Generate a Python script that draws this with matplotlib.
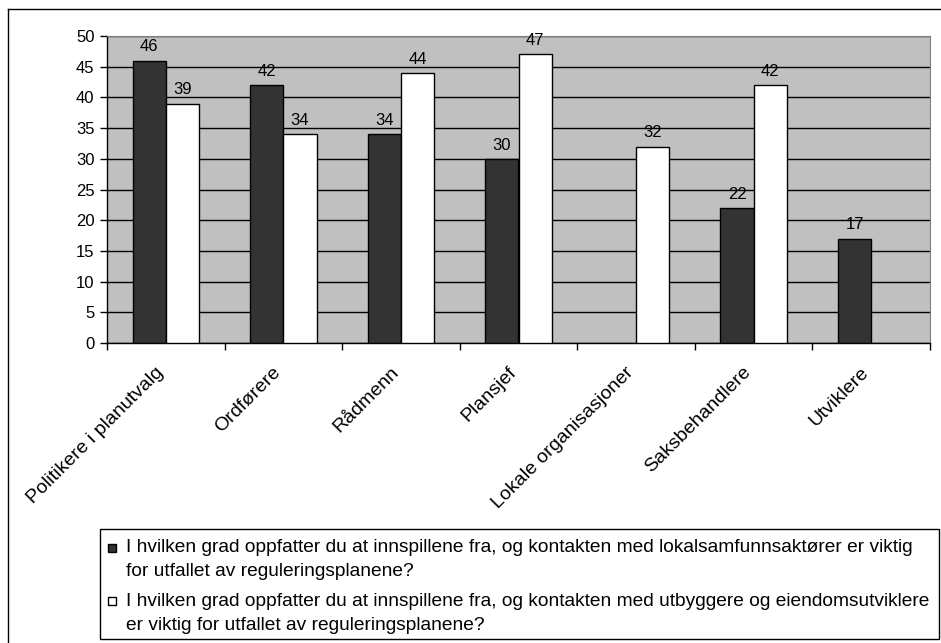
import matplotlib
matplotlib.use("Agg")
import matplotlib.pyplot as plt
import matplotlib.transforms as mtransforms
import numpy as np
from matplotlib.lines import Line2D
from matplotlib.patches import Rectangle

plt.rcParams['font.family'] = ['Liberation Sans', 'DejaVu Sans']

categories = ["Politikere i planutvalg", "Ordførere", "Rådmenn", "Plansjef",
              "Lokale organisasjoner", "Saksbehandlere", "Utviklere"]
series_local = [46, 42, 34, 30, None, 22, 17]
series_dev = [39, 34, 44, 47, 32, 42, None]
legend_labels = [
    "I hvilken grad oppfatter du at innspillene fra, og kontakten med lokalsamfunnsaktører er viktig\nfor utfallet av reguleringsplanene?",
    "I hvilken grad oppfatter du at innspillene fra, og kontakten med utbyggere og eiendomsutviklere\ner viktig for utfallet av reguleringsplanene?",
]
series_colors = ['#333333', 'white']
yticks = list(range(0, 51, 5))

W, H = 941, 643
fig = plt.figure(figsize=(W / 100, H / 100), dpi=100)
ax = fig.add_axes([107 / W, 1 - 343 / H, (930 - 107) / W, (343 - 36) / H])
ax.set_facecolor('#C0C0C0')

x = np.arange(len(categories))
bw = 0.283
for i in range(len(categories)):
    for k, (vals, off) in enumerate([(series_local, -bw / 2), (series_dev, bw / 2)]):
        v = vals[i]
        if v is None:
            continue
        ax.bar(x[i] + off, v, bw, color=series_colors[k], edgecolor='black', linewidth=1, zorder=3)
        ax.text(x[i] + off, v + 1.0, str(v), ha='center', va='bottom', fontsize=12, zorder=4)

ax.set_xlim(-0.5, len(categories) - 0.5)
ax.set_ylim(0, 50)
ax.set_yticks(yticks)
ax.set_yticklabels([str(t) for t in yticks], fontsize=12)
ax.yaxis.grid(True, color='black', linewidth=1, zorder=1)
ax.set_axisbelow(True)

ax.set_xticks(x)
ax.set_xticklabels(categories, rotation=45, ha='right', rotation_mode='anchor', fontsize=14)
ax.tick_params(axis='x', length=0, pad=15)
shift = mtransforms.ScaledTranslation(-11 / 100, 0, fig.dpi_scale_trans)
for lbl in ax.get_xticklabels():
    lbl.set_transform(lbl.get_transform() + shift)
ax.set_xticks(np.arange(-0.5, len(categories) + 0.5, 1), minor=True)
ax.tick_params(axis='x', which='minor', length=5, width=1, color='black', direction='out')
ax.tick_params(axis='y', length=5, width=1, direction='out', pad=4)

for s in ['top', 'right']:
    ax.spines[s].set_color('#808080')
for s in ['left', 'bottom']:
    ax.spines[s].set_color('black')
    ax.spines[s].set_linewidth(1)

# outer chart frame (top and left visible)
fig.add_artist(Line2D([8 / W, 1.0], [1 - 9 / H, 1 - 9 / H], color='black', linewidth=1))
fig.add_artist(Line2D([8 / W, 8 / W], [0, 1 - 9 / H], color='black', linewidth=1))

# legend box drawn by hand (marker aligned with first line of each entry)
fig.add_artist(Rectangle((100 / W, 1 - 639 / H), (939 - 100) / W, (639 - 529) / H,
                         transform=fig.transFigure, facecolor='white', edgecolor='black', linewidth=1))
entry_tops = [548, 601]
line_gap = 24
for k, lab in enumerate(legend_labels):
    y0 = entry_tops[k]
    fig.add_artist(Rectangle((108 / W, 1 - (y0 + 4) / H), 8 / W, 8 / H, transform=fig.transFigure,
                             facecolor=series_colors[k], edgecolor='black', linewidth=1))
    for j, line in enumerate(lab.split("\n")):
        fig.text(126 / W, 1 - (y0 + j * line_gap) / H, line, ha='left', va='center', fontsize=13.8)

fig.savefig("out.png", dpi=100)
